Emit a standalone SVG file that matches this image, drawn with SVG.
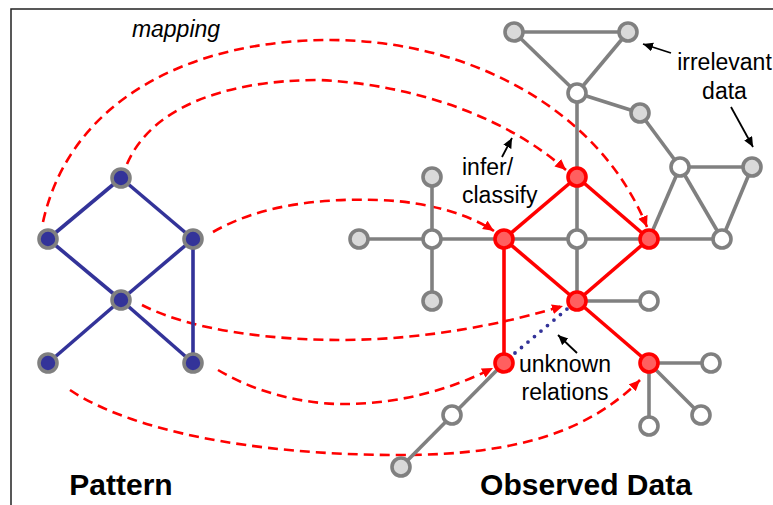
<svg xmlns="http://www.w3.org/2000/svg" width="773" height="505" viewBox="0 0 773 505">
  <defs>
    <marker id="redHead" markerUnits="userSpaceOnUse" markerWidth="14" markerHeight="12" refX="11" refY="5" orient="auto">
      <path d="M0,0 L11,5 L0,10 Z" fill="#ff0000"/>
    </marker>
    <marker id="blackHead" markerUnits="userSpaceOnUse" markerWidth="12" markerHeight="10" refX="10" refY="4.5" orient="auto">
      <path d="M0,0 L10,4.5 L0,9 Z" fill="#000"/>
    </marker>
  </defs>
  <style>
    .map { fill: none; stroke: #ff0000; stroke-width: 2.6; stroke-dasharray: 10 6; marker-end: url(#redHead); }
    .pe { stroke: #333399; stroke-width: 3.6; fill: none; }
    .ge { stroke: #808080; stroke-width: 3.6; fill: none; }
    .re { stroke: #ff0000; stroke-width: 3.6; fill: none; }
    .unk { stroke: #333399; stroke-width: 3.8; stroke-linecap: round; stroke-dasharray: 0 8.5; fill: none; }
    .note { stroke: #000; stroke-width: 1.8; fill: none; marker-end: url(#blackHead); }
    .pn { fill: #333399; stroke: #808080; stroke-width: 3.6; }
    .gn { fill: #d9d9d9; stroke: #808080; stroke-width: 3.6; }
    .wn { fill: #ffffff; stroke: #808080; stroke-width: 3.6; }
    .rn { fill: #ff5f5f; stroke: #ff0000; stroke-width: 3.6; }
    text { font-family: "Liberation Sans", Arial, sans-serif; fill: #000; }
    .lbl { font-size: 23px; }
    .ttl { font-size: 30px; font-weight: bold; }
  </style>

  <!-- frame -->
  <rect x="11" y="9" width="800" height="600" fill="none" stroke="#222" stroke-width="1.5"/>

  <g id="connectors">
    <!-- mapping arcs from pattern to observed data -->
    <g id="mapping-arcs">
      <path class="map" d="M43,222 C70,100 190,40 330,40 C470,40 600,110 647,227"/>
      <path class="map" d="M127,164 C150,110 220,80 320,80 C420,85 510,120 566,170"/>
      <path class="map" d="M213,232 C260,205 320,198 380,200 C430,202 470,215 494,231"/>
      <path class="map" d="M142,305 C190,330 270,340 340,340 C430,340 510,322 563,306"/>
      <path class="map" d="M218,370 C260,395 310,405 350,404 C400,403 450,390 493,368"/>
      <path class="map" d="M70,390 C130,430 250,455 400,455 C520,455 590,430 640,380"/>
    </g>

    <!-- pattern edges -->
    <g id="pattern-edges">
      <line class="pe" x1="121" y1="178" x2="48" y2="239"/>
      <line class="pe" x1="121" y1="178" x2="193" y2="239"/>
      <line class="pe" x1="48" y1="239" x2="121" y2="300"/>
      <line class="pe" x1="193" y1="239" x2="121" y2="300"/>
      <line class="pe" x1="121" y1="300" x2="48" y2="363"/>
      <line class="pe" x1="121" y1="300" x2="193" y2="363"/>
      <line class="pe" x1="193" y1="239" x2="193" y2="363"/>
    </g>

    <!-- observed data edges -->
    <g id="data-edges">
      <line class="ge" x1="514" y1="32" x2="628" y2="32"/>
      <line class="ge" x1="514" y1="32" x2="577" y2="93"/>
      <line class="ge" x1="628" y1="32" x2="577" y2="93"/>
      <line class="ge" x1="577" y1="93" x2="640" y2="113"/>
      <line class="ge" x1="640" y1="113" x2="680" y2="167"/>
      <line class="ge" x1="577" y1="93" x2="577" y2="301"/>
      <line class="ge" x1="680" y1="167" x2="752" y2="167"/>
      <line class="ge" x1="680" y1="167" x2="649" y2="239"/>
      <line class="ge" x1="680" y1="167" x2="722" y2="239"/>
      <line class="ge" x1="752" y1="167" x2="722" y2="239"/>
      <line class="ge" x1="359" y1="239" x2="722" y2="239"/>
      <line class="ge" x1="432" y1="177" x2="432" y2="301"/>
      <line class="ge" x1="577" y1="301" x2="649" y2="301"/>
      <line class="ge" x1="649" y1="363" x2="711" y2="363"/>
      <line class="ge" x1="649" y1="363" x2="701" y2="415"/>
      <line class="ge" x1="649" y1="363" x2="649" y2="426"/>
      <line class="ge" x1="504" y1="363" x2="401" y2="467"/>
      <!-- matched sub-pattern -->
      <line class="re" x1="504" y1="239" x2="577" y2="177"/>
      <line class="re" x1="577" y1="177" x2="649" y2="239"/>
      <line class="re" x1="504" y1="239" x2="577" y2="301"/>
      <line class="re" x1="649" y1="239" x2="577" y2="301"/>
      <line class="re" x1="504" y1="239" x2="504" y2="363"/>
      <line class="re" x1="577" y1="301" x2="649" y2="363"/>
      <!-- inferred relation -->
      <line class="unk" x1="515" y1="353" x2="573" y2="304"/>
    </g>

    <!-- annotation pointers -->
    <g id="annotation-arrows">
      <line class="note" x1="502" y1="157" x2="512" y2="138"/>
      <line class="note" x1="671" y1="53" x2="643" y2="44"/>
      <line class="note" x1="731" y1="107" x2="753" y2="147"/>
      <line class="note" x1="577" y1="353" x2="558" y2="335"/>
    </g>
  </g>

  <!-- pattern nodes -->
  <g id="p-top"><circle class="pn" cx="121" cy="178" r="9"/></g>
  <g id="p-left"><circle class="pn" cx="48" cy="239" r="9"/></g>
  <g id="p-right"><circle class="pn" cx="193" cy="239" r="9"/></g>
  <g id="p-center"><circle class="pn" cx="121" cy="300" r="9"/></g>
  <g id="p-bottom-left"><circle class="pn" cx="48" cy="363" r="9"/></g>
  <g id="p-bottom-right"><circle class="pn" cx="193" cy="363" r="9"/></g>

  <!-- observed data nodes -->
  <g id="d-tri-left"><circle class="gn" cx="514" cy="32" r="9"/></g>
  <g id="d-tri-right"><circle class="gn" cx="628" cy="32" r="9"/></g>
  <g id="d-hub-top"><circle class="wn" cx="577" cy="93" r="9"/></g>
  <g id="d-upper-right"><circle class="gn" cx="640" cy="113" r="9"/></g>
  <g id="d-right-hub"><circle class="wn" cx="680" cy="167" r="9"/></g>
  <g id="d-far-right"><circle class="gn" cx="752" cy="167" r="9"/></g>
  <g id="d-far-left"><circle class="gn" cx="359" cy="239" r="9"/></g>
  <g id="d-left-top"><circle class="gn" cx="432" cy="177" r="9"/></g>
  <g id="d-left-hub"><circle class="wn" cx="432" cy="239" r="9"/></g>
  <g id="d-left-bottom"><circle class="gn" cx="432" cy="301" r="9"/></g>
  <g id="d-center"><circle class="wn" cx="577" cy="239" r="9"/></g>
  <g id="d-right-end"><circle class="wn" cx="722" cy="239" r="9"/></g>
  <g id="d-mid-right"><circle class="wn" cx="649" cy="301" r="9"/></g>
  <g id="d-leaf-right"><circle class="wn" cx="711" cy="363" r="9"/></g>
  <g id="d-leaf-diag"><circle class="wn" cx="701" cy="415" r="9"/></g>
  <g id="d-leaf-down"><circle class="wn" cx="649" cy="426" r="9"/></g>
  <g id="d-chain-mid"><circle class="wn" cx="452" cy="415" r="9"/></g>
  <g id="d-chain-end"><circle class="gn" cx="401" cy="467" r="9"/></g>
  <g id="m-top"><circle class="rn" cx="577" cy="177" r="9"/></g>
  <g id="m-left"><circle class="rn" cx="504" cy="239" r="9"/></g>
  <g id="m-right"><circle class="rn" cx="649" cy="239" r="9"/></g>
  <g id="m-center"><circle class="rn" cx="577" cy="301" r="9"/></g>
  <g id="m-bottom-left"><circle class="rn" cx="504" cy="363" r="9"/></g>
  <g id="m-bottom-right"><circle class="rn" cx="649" cy="363" r="9"/></g>

  <!-- labels -->
  <g id="labels">
    <text class="lbl" x="176" y="37" text-anchor="middle" font-style="italic">mapping</text>
    <text class="lbl" x="462" y="175">infer/</text>
    <text class="lbl" x="462" y="203">classify</text>
    <text class="lbl" x="724.5" y="70" text-anchor="middle">irrelevant</text>
    <text class="lbl" x="724.5" y="99" text-anchor="middle">data</text>
    <text class="lbl" x="565" y="372" text-anchor="middle">unknown</text>
    <text class="lbl" x="565" y="400" text-anchor="middle">relations</text>
    <text class="ttl" x="121" y="495" text-anchor="middle">Pattern</text>
    <text class="ttl" x="586" y="495" text-anchor="middle">Observed Data</text>
  </g>
</svg>
